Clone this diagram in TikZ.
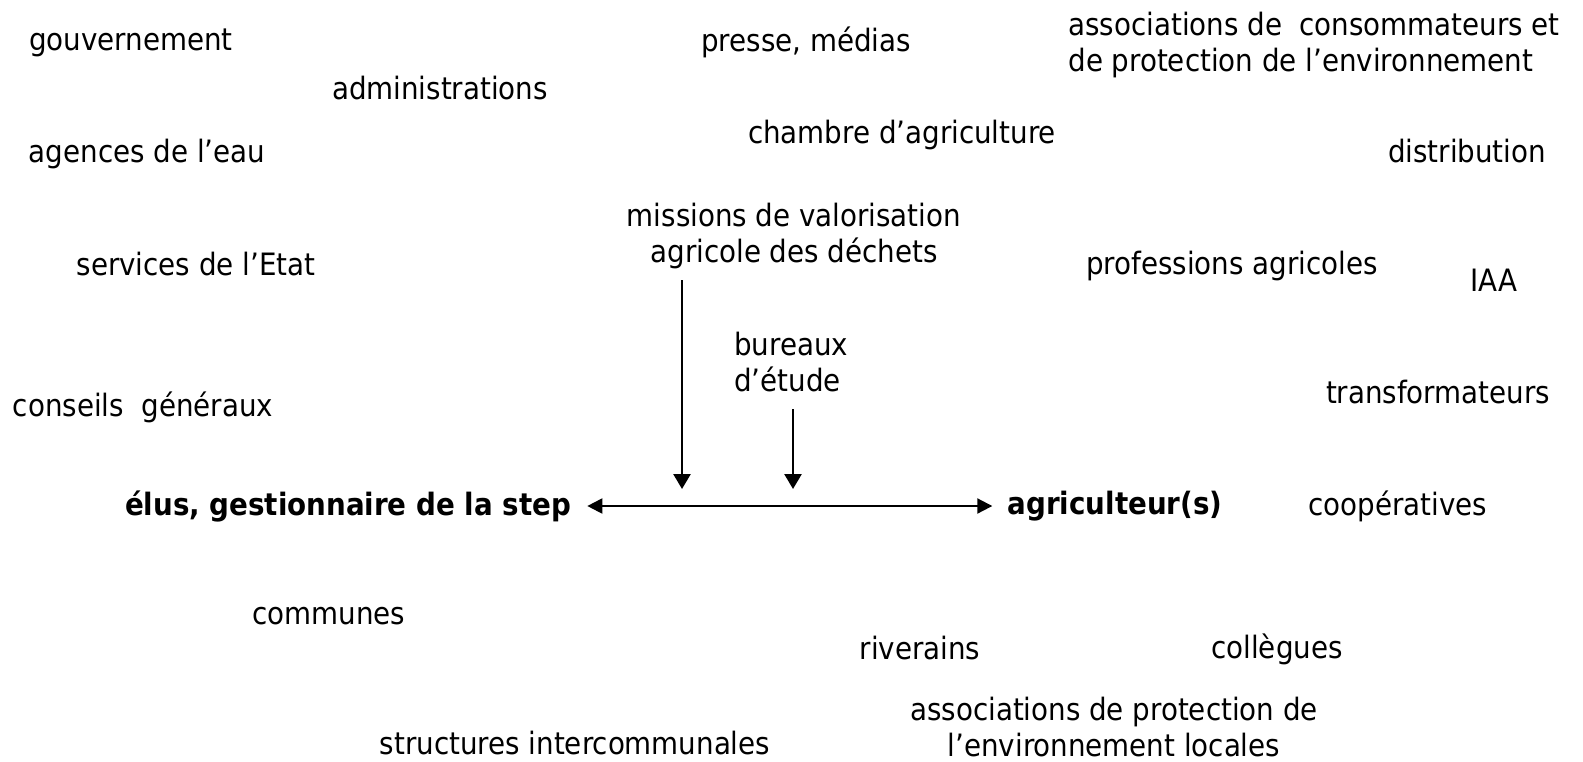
\documentclass[tikz,border=0pt]{standalone}
\usepackage{fontspec}
\setmainfont{DejaVu Sans Condensed}
\usepackage{tikz}
\usetikzlibrary{positioning}
\usetikzlibrary{arrows.meta}

\begin{document}
\begin{tikzpicture}[
    x=0.5pt, y=-0.5pt,
    actor/.style={
        inner sep=0pt,
        font=\fontsize{15.4pt}{18pt}\selectfont
    },
    mainactor/.style={
        actor,
        font=\fontsize{15.4pt}{18pt}\selectfont\bfseries
    },
    exchange/.style={
        {Triangle[length=7.5pt,width=7.5pt]}-{Triangle[length=7.5pt,width=7.5pt]},
        line width=1pt,
        shorten <=8pt,
        shorten >=7.5pt
    },
    influence/.style={
        -{Triangle[length=7.5pt,width=8.5pt]},
        line width=1.3pt
    }
]
\useasboundingbox (0,0) rectangle (1583,761);

% left side
\node[actor] (gouv) at (131,43) {gouvernement};
\node[actor] (admin) at (440,88) {administrations};
\node[actor] (agences) at (147,154) {agences de l’eau};
\node[actor] (services) at (196,264) {services de l’Etat};
\node[actor] (conseils) at (143,407) {conseils\ \ généraux};
\node[actor] (communes) at (329,616) {communes};
\node[actor] (intercom) at (575,743) {structures intercommunales};

% centre
\node[actor] (presse) at (806,42) {presse, médias};
\node[actor] (chambre) at (902,135) {chambre d’agriculture};
\node[actor, align=center] (missions) at (794,236) {missions de valorisation\\agricole des déchets};
\node[actor, align=left, anchor=west] (bureaux) at (734,362) {bureaux\\d’étude};

% right side
\node[actor, align=left, anchor=west] (assocconso) at (1068,45) {associations de\ \ consommateurs et\\de protection de l’environnement};
\node[actor] (distrib) at (1467,151) {distribution};
\node[actor] (professions) at (1232,266) {professions agricoles};
\node[actor] (iaa) at (1494,280) {IAA};
\node[actor] (transfo) at (1438,392) {transformateurs};
\node[actor] (coop) at (1398,506) {coopératives};
\node[actor] (riverains) at (920,648) {riverains};
\node[actor] (collegues) at (1277,649) {collègues};
\node[actor, align=center] (assocloc) at (1114,727) {associations de protection de\\l’environnement locales};

% main actors
\node[mainactor] (elus) at (348,506) {élus, gestionnaire de la step};
\node[mainactor] (agri) at (1115,506) {agriculteur(s)};

\coordinate (hitmissions) at (682,489);
\coordinate (hitbureaux) at (793,489);

\draw[exchange] (elus) -- (agri);
\draw[influence] (hitmissions |- 0,280) -- (hitmissions);
\draw[influence] (hitbureaux |- 0,409) -- (hitbureaux);

\end{tikzpicture}
\end{document}
